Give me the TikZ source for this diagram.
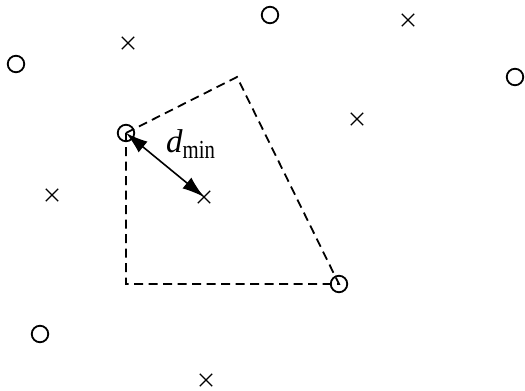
\documentclass[tikz,border=0pt]{standalone}
\usepackage{fontspec}
\setmainfont{Liberation Serif}
\usetikzlibrary{arrows.meta,shapes.misc}
\tikzset{
  ring/.style={circle,draw,line width=1.8pt,minimum size=16.5pt,inner sep=0pt},
  cross/.style={cross out,draw,line width=1.4pt,minimum size=11pt,inner sep=0pt},
  region/.style={draw,line width=1.8pt,dash pattern=on 9pt off 5.5pt},
  dist/.style={line width=1.6pt,{Latex[length=22pt,width=14pt]}-{Latex[length=22pt,width=14pt]}}
}
\begin{document}
\begin{tikzpicture}[x=1pt,y=-1pt]
\useasboundingbox (0,0) rectangle (525,391);
% circles
\node[ring] (c1) at (270,15) {};
\node[ring] (c2) at (16,64) {};
\node[ring] (c3) at (515,77) {};
\node[ring] (c4) at (126,133) {};
\node[ring] (c5) at (339,284) {};
\node[ring] (c6) at (40,334) {};
% crosses
\node[cross] (x1) at (128,43) {};
\node[cross] (x2) at (408,20) {};
\node[cross] (x3) at (357,119) {};
\node[cross] (x4) at (52,195) {};
\node[cross] (x5) at (204,197) {};
\node[cross] (x6) at (206,380) {};
% region
\coordinate (v1) at (237,77);
\coordinate (v2) at (126,284);
\draw[region] (c4.center) -- (v1) -- (c5.center) -- (v2) -- cycle;
% distance
\draw[dist] (c4.center) -- (x5.center);
\node[anchor=base west,inner sep=0pt] (lbl) at (166,152) {\fontsize{33}{33}\selectfont\itshape d\upshape\raisebox{-6pt}{\scalebox{0.8}[1]{\fontsize{26}{26}\selectfont min}}};
\end{tikzpicture}
\end{document}
